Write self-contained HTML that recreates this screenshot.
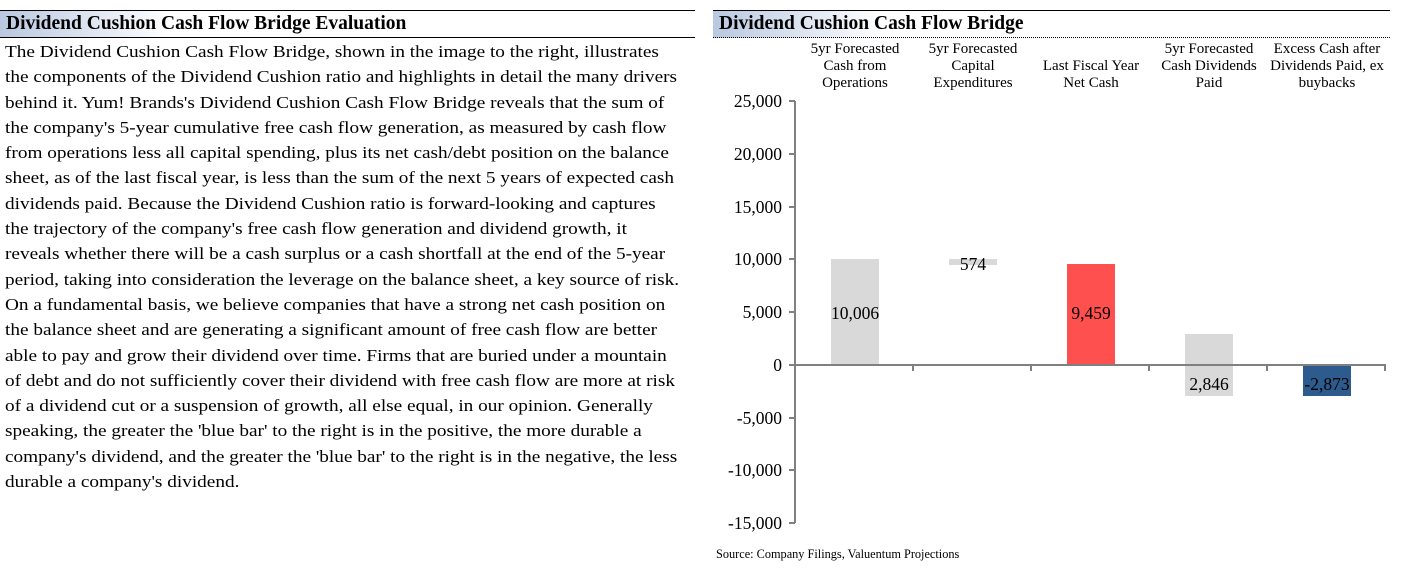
<!DOCTYPE html>
<html><head><style>
body{margin:0;width:1410px;height:569px;background:#fff;font-family:"Liberation Serif",serif;position:relative;overflow:hidden}
.h{position:absolute;height:26px;border-top:1.5px solid #000;border-bottom:1.5px solid #000;font-weight:bold;font-size:19.5px;line-height:26px;padding-left:6px;box-sizing:border-box;background:linear-gradient(90deg,#b9c8e0 0,#fff 170px)}
.p{position:absolute;left:5px;top:39px;width:620px;font-size:17.2px;line-height:25.3px;color:#000;transform:scaleX(1.12);transform-origin:0 0;white-space:nowrap}
svg text{font-family:"Liberation Serif",serif}
</style></head><body>
<div class="h" style="left:0;top:10px;width:695px;height:28px;line-height:26px">Dividend Cushion Cash Flow Bridge Evaluation</div>
<div class="p">The Dividend Cushion Cash Flow Bridge, shown in the image to the right, illustrates<br>the components of the Dividend Cushion ratio and highlights in detail the many drivers<br>behind it. Yum! Brands's Dividend Cushion Cash Flow Bridge reveals that the sum of<br>the company's 5-year cumulative free cash flow generation, as measured by cash flow<br>from operations less all capital spending, plus its net cash/debt position on the balance<br>sheet, as of the last fiscal year, is less than the sum of the next 5 years of expected cash<br>dividends paid. Because the Dividend Cushion ratio is forward-looking and captures<br>the trajectory of the company's free cash flow generation and dividend growth, it<br>reveals whether there will be a cash surplus or a cash shortfall at the end of the 5-year<br>period, taking into consideration the leverage on the balance sheet, a key source of risk.<br>On a fundamental basis, we believe companies that have a strong net cash position on<br>the balance sheet and are generating a significant amount of free cash flow are better<br>able to pay and grow their dividend over time. Firms that are buried under a mountain<br>of debt and do not sufficiently cover their dividend with free cash flow are more at risk<br>of a dividend cut or a suspension of growth, all else equal, in our opinion. Generally<br>speaking, the greater the 'blue bar' to the right is in the positive, the more durable a<br>company's dividend, and the greater the 'blue bar' to the right is in the negative, the less<br>durable a company's dividend.</div>
<div class="h" style="left:713px;top:10px;width:677px;height:28px;border-bottom:1px dotted #000">Dividend Cushion Cash Flow Bridge</div>
<svg style="position:absolute;left:0;top:0" width="1410" height="569">
<g font-size="15" text-anchor="middle">
<text x="855" y="53">5yr Forecasted</text><text x="855" y="70">Cash from</text><text x="855" y="87">Operations</text>
<text x="973" y="53">5yr Forecasted</text><text x="973" y="70">Capital</text><text x="973" y="87">Expenditures</text>
<text x="1091" y="70">Last Fiscal Year</text><text x="1091" y="87">Net Cash</text>
<text x="1209" y="53">5yr Forecasted</text><text x="1209" y="70">Cash Dividends</text><text x="1209" y="87">Paid</text>
<text x="1327" y="53">Excess Cash after</text><text x="1327" y="70">Dividends Paid, ex</text><text x="1327" y="87">buybacks</text>
</g>
<g font-size="17.5" text-anchor="end">
<text x="782" y="107">25,000</text><text x="782" y="160">20,000</text><text x="782" y="213">15,000</text><text x="782" y="265">10,000</text><text x="782" y="318">5,000</text><text x="782" y="371">0</text><text x="782" y="424">-5,000</text><text x="782" y="476">-10,000</text><text x="782" y="529">-15,000</text>
</g>
<rect x="831" y="259" width="48" height="106" fill="#d9d9d9"/>
<rect x="949" y="259" width="48" height="6" fill="#d9d9d9"/>
<rect x="1067" y="264" width="48" height="101" fill="#ff5050"/>
<rect x="1185" y="334" width="48" height="62" fill="#d9d9d9"/>
<rect x="1303" y="366" width="48" height="30" fill="#2e5b8e"/>
<g stroke="#808080" stroke-width="2" fill="none">
<path d="M795 101V523"/>
<path d="M789 101H795M789 154H795M789 207H795M789 259H795M789 312H795M789 365H795M789 418H795M789 470H795M789 523H795"/>
<path d="M795 365H1386M913 365V371M1031 365V371M1149 365V371M1267 365V371M1385 365V371"/>
</g>
<g font-size="17.5" text-anchor="middle">
<text x="855" y="319">10,006</text><text x="973" y="270">574</text><text x="1091" y="319">9,459</text><text x="1209" y="390">2,846</text><text x="1327" y="390">-2,873</text>
</g>
<text x="716" y="558" font-size="12.3">Source: Company Filings, Valuentum Projections</text>
</svg>
</body></html>
